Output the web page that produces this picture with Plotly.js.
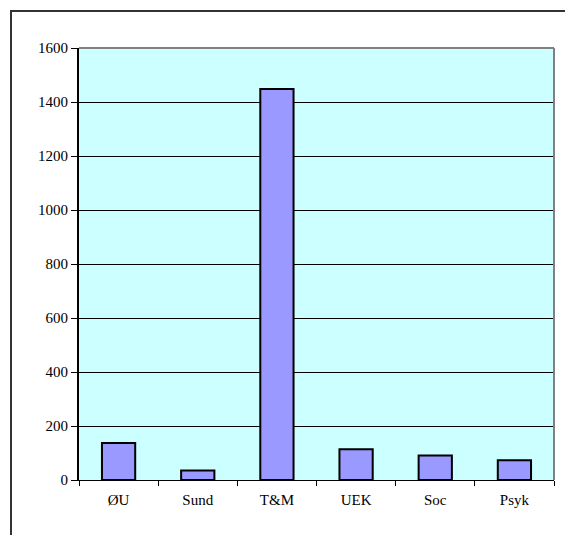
<!DOCTYPE html>
<html>
<head>
<meta charset="utf-8">
<script src="https://cdn.plot.ly/plotly-3.0.1.min.js"></script>
<style>
html,body{margin:0;padding:0;background:#fff;overflow:hidden;}
#wrap{position:relative;width:565px;height:535px;}
#chart{position:absolute;left:0;top:0;width:565px;height:535px;}
#frame{position:absolute;left:10px;top:10px;width:600px;height:600px;border-left:2px solid #333;border-top:2px solid #333;pointer-events:none;}
</style>
</head>
<body>
<div id="wrap">
<div id="chart"></div>
<div id="frame"></div>
</div>
<script>
const categories = ["ØU", "Sund", "T&M", "UEK", "Soc", "Psyk"];
const values = [137, 35, 1448, 114, 91, 73];
const yTicks = [0, 200, 400, 600, 800, 1000, 1200, 1400, 1600];

const serif = "Liberation Serif";

const trace = {
  type: "bar",
  x: categories,
  y: values,
  marker: { color: "#9999FF", line: { color: "#000000", width: 2 } },
  hoverinfo: "x+y"
};

const layout = {
  width: 565,
  height: 535,
  margin: { l: 79, r: 11, t: 48, b: 55 },
  paper_bgcolor: "#FFFFFF",
  plot_bgcolor: "#CCFFFF",
  showlegend: false,
  bargap: 0.58,
  font: { family: serif, size: 15, color: "#000" },
  xaxis: {
    type: "category",
    showgrid: false,
    showline: true,
    linecolor: "#000",
    linewidth: 1,
    ticks: "outside",
    tickson: "boundaries",
    ticklen: 5,
    tickcolor: "#000",
    ticklabelstandoff: 6,
    tickfont: { family: serif, size: 15, color: "#000" },
    fixedrange: true
  },
  yaxis: {
    range: [0, 1600],
    tickvals: yTicks,
    ticktext: yTicks.map(String),
    showgrid: true,
    gridcolor: "#000",
    gridwidth: 1,
    zeroline: false,
    showline: true,
    linecolor: "#000",
    linewidth: 2,
    ticks: "outside",
    ticklen: 6,
    tickcolor: "#000",
    tickfont: { family: serif, size: 15, color: "#000" },
    fixedrange: true
  },
  shapes: [
    { type: "line", xref: "paper", yref: "paper", x0: 0, x1: 1, y0: 1, y1: 1, line: { color: "#808080", width: 2 }, layer: "above" },
    { type: "line", xref: "paper", yref: "paper", x0: 1, x1: 1, y0: 0, y1: 1, line: { color: "#808080", width: 2 }, layer: "above" }
  ]
};

Plotly.newPlot("chart", [trace], layout, { displayModeBar: false, staticPlot: true });
</script>
</body>
</html>
